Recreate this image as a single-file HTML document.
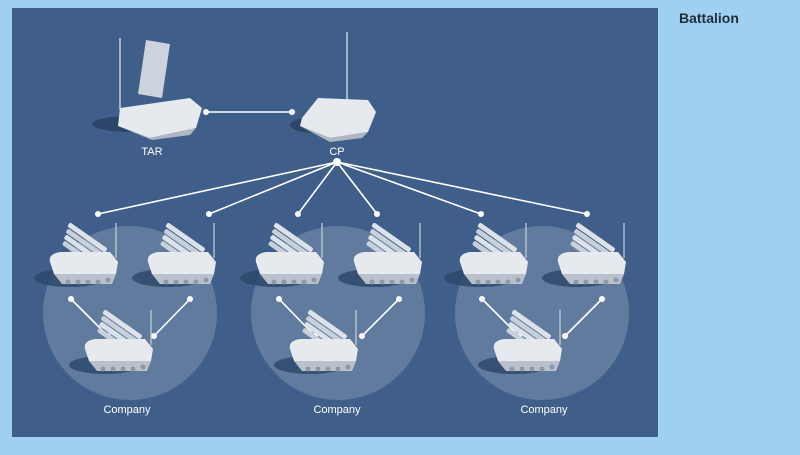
<!DOCTYPE html>
<html><head><style>
body{margin:0;width:800px;height:450px;background:#9fcff1;overflow:hidden;font-family:"Liberation Sans",sans-serif}
</style></head><body>
<svg width="800" height="450" viewBox="0 0 800 450" xmlns="http://www.w3.org/2000/svg">
<defs>
<g id="lz">
  <ellipse cx="-12" cy="10" rx="36" ry="9" fill="#2c4669" opacity="0.8"/>
  <g transform="rotate(35 8 -22)">
    <rect x="-22" y="-30" width="46" height="5" rx="2" fill="#dde2ea"/>
    <rect x="-20" y="-24" width="46" height="5" rx="2" fill="#c9d0da"/>
    <rect x="-18" y="-18" width="46" height="5" rx="2" fill="#dde2ea"/>
    <rect x="-16" y="-12" width="46" height="5" rx="2" fill="#c9d0da"/>
  </g>
  <line x1="34" y1="-45" x2="34" y2="-10" stroke="#c9d0da" stroke-width="1.2"/>
  <path d="M-32,-6 Q-34,-14 -22,-16 L28,-16 L36,-6 L34,6 L-28,6 Z" fill="#e6e9ee"/>
  <path d="M-28,6 L34,6 L30,16 L-20,16 Z" fill="#b9c1cc"/>
  <g fill="#8e98a6"><circle cx="-14" cy="14" r="2.5"/><circle cx="-4" cy="14" r="2.5"/><circle cx="6" cy="14" r="2.5"/><circle cx="16" cy="14" r="2.5"/><circle cx="26" cy="12" r="2.5"/></g>
</g>
</defs>
<rect x="12" y="8" width="646" height="429" fill="#3f5f8a"/>
<text x="679" y="23" font-size="14" font-weight="bold" fill="#1f2d3d">Battalion</text>
<g fill="#ffffff" fill-opacity="0.18">
<circle cx="130" cy="313" r="87"/><circle cx="338" cy="313" r="87"/><circle cx="542" cy="313" r="87"/>
</g>
<!-- TAR -->
<ellipse cx="130" cy="124" rx="38" ry="8" fill="#2c4669"/>
<line x1="120" y1="38" x2="120" y2="110" stroke="#c9d0da" stroke-width="1.5"/>
<polygon points="146,40 170,44 162,98 138,94" fill="#ccd3dd"/>
<path d="M120,108 L190,98 L202,108 L196,128 L150,138 L118,126 Z" fill="#e6e9ee"/>
<path d="M118,126 L150,138 L196,128 L190,135 L152,140 Z" fill="#aeb7c3"/>
<!-- CP -->
<ellipse cx="315" cy="125" rx="25" ry="8" fill="#2c4669"/>
<line x1="347" y1="32" x2="347" y2="100" stroke="#c9d0da" stroke-width="1.5"/>
<path d="M302,118 L318,98 L368,100 L376,112 L368,132 L330,138 L300,126 Z" fill="#e6e9ee"/>
<path d="M300,126 L330,138 L368,132 L362,138 L330,142 Z" fill="#aeb7c3"/>
<g stroke="#fff" stroke-width="1.6" fill="none">
<line x1="206" y1="112" x2="292" y2="112"/>
<line x1="337" y1="162" x2="98" y2="214"/><line x1="337" y1="162" x2="209" y2="214"/>
<line x1="337" y1="162" x2="298" y2="214"/><line x1="337" y1="162" x2="377" y2="214"/>
<line x1="337" y1="162" x2="481" y2="214"/><line x1="337" y1="162" x2="587" y2="214"/>
<line x1="71" y1="299" x2="108" y2="336"/><line x1="190" y1="299" x2="154" y2="336"/>
<line x1="279" y1="299" x2="315" y2="336"/><line x1="399" y1="299" x2="362" y2="336"/>
<line x1="482" y1="299" x2="519" y2="336"/><line x1="602" y1="299" x2="565" y2="336"/>
</g>
<g fill="#fff">
<circle cx="206" cy="112" r="3"/><circle cx="292" cy="112" r="3"/><circle cx="337" cy="162" r="4"/>
<circle cx="98" cy="214" r="3"/><circle cx="209" cy="214" r="3"/><circle cx="298" cy="214" r="3"/><circle cx="377" cy="214" r="3"/><circle cx="481" cy="214" r="3"/><circle cx="587" cy="214" r="3"/>
<circle cx="71" cy="299" r="3"/><circle cx="190" cy="299" r="3"/><circle cx="279" cy="299" r="3"/><circle cx="399" cy="299" r="3"/><circle cx="482" cy="299" r="3"/><circle cx="602" cy="299" r="3"/>
<circle cx="108" cy="336" r="3"/><circle cx="154" cy="336" r="3"/><circle cx="315" cy="336" r="3"/><circle cx="362" cy="336" r="3"/><circle cx="519" cy="336" r="3"/><circle cx="565" cy="336" r="3"/>
</g>
<use href="#lz" x="82" y="268"/><use href="#lz" x="180" y="268"/>
<use href="#lz" x="288" y="268"/><use href="#lz" x="386" y="268"/>
<use href="#lz" x="492" y="268"/><use href="#lz" x="590" y="268"/>
<use href="#lz" x="117" y="355"/><use href="#lz" x="322" y="355"/><use href="#lz" x="526" y="355"/>
<g fill="#fff" font-size="11" text-anchor="middle">
<text x="152" y="155">TAR</text><text x="337" y="155">CP</text>
<text x="127" y="413">Company</text><text x="337" y="413">Company</text><text x="544" y="413">Company</text>
</g>
</svg>
</body></html>
